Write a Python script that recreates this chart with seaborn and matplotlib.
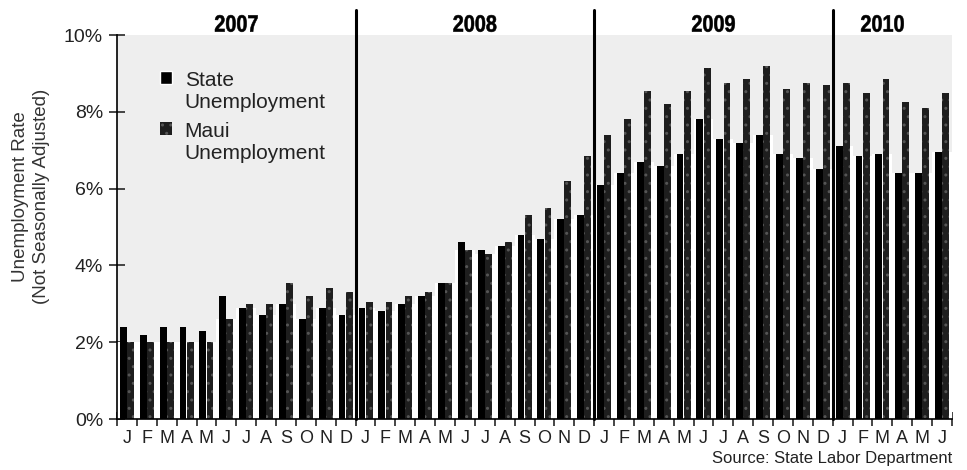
import pandas as pd
import numpy as np

import matplotlib.pyplot as plt
from matplotlib.patches import Rectangle, PathPatch
from matplotlib.textpath import TextPath
from matplotlib.font_manager import FontProperties
from matplotlib.transforms import Affine2D, ScaledTranslation
import seaborn as sns

# DATA (% unemployment, Jan 2007 - Jun 2010)
months = list("JFMAMJJASOND") * 3 + list("JFMAMJ")
years = ["2007", "2008", "2009", "2010"]
year_centers = [5.5, 17.5, 29.5, 38.0]
year_breaks = [11.5, 23.5, 35.5]

state = [2.4, 2.2, 2.4, 2.4, 2.3, 3.2, 2.9, 2.7, 3.0, 2.6, 2.9, 2.7,
         2.9, 2.8, 3.0, 3.2, 3.55, 4.6, 4.4, 4.5, 4.8, 4.7, 5.2, 5.3,
         6.1, 6.4, 6.7, 6.6, 6.9, 7.8, 7.3, 7.2, 7.4, 6.9, 6.8, 6.5,
         7.1, 6.85, 6.9, 6.4, 6.4, 6.95]
maui = [2.0, 2.0, 2.0, 2.0, 2.0, 2.6, 3.0, 3.0, 3.55, 3.2, 3.4, 3.3,
        3.05, 3.05, 3.2, 3.3, 3.55, 4.4, 4.3, 4.6, 5.3, 5.5, 6.2, 6.85,
        7.4, 7.8, 8.55, 8.2, 8.55, 9.15, 8.75, 8.85, 9.2, 8.6, 8.75, 8.7,
        8.75, 8.5, 8.85, 8.25, 8.1, 8.5]

# CONFIG
sns.set_theme(style="white")
plt.rcParams["font.family"] = ["Liberation Sans", "DejaVu Sans"]
text_col = "#222222"

n = len(months)
df = pd.DataFrame({
    "idx": list(range(n)) * 2,
    "rate": state + maui,
    "series": ["State"] * n + ["Maui"] * n,
})
# white gaps between bars (stipple only shows above them)
low_df = pd.DataFrame({"idx": range(n), "rate": np.minimum(state, maui)})

fig = plt.figure(figsize=(9.67, 4.7), dpi=100)
ax = fig.add_axes([0.121, 0.1085, 0.8635, 0.817])
ax.set_facecolor("#eeeeee")

sns.barplot(data=low_df, x="idx", y="rate", color="white", width=1.0,
            linewidth=0, saturation=1, ax=ax)

sns.barplot(data=df, x="idx", y="rate", hue="series", hue_order=["State", "Maui"],
            palette={"State": "#000000", "Maui": "#1e1e1e"},
            width=0.72, gap=0.04, linewidth=0, saturation=1, ax=ax, legend=False)

# dotted texture on Maui bars
for p in ax.containers[2]:
    p.set_hatch("..")
    p.set_edgecolor("#555555")
    p.set_linewidth(0)

ax.set_xlim(-0.5, n - 0.5)
ax.set_ylim(0, 10)

# y axis
ax.set_yticks([0, 2, 4, 6, 8, 10])
ax.set_yticklabels([f"{v}%" for v in [0, 2, 4, 6, 8, 10]], fontsize=14, color=text_col)
ax.tick_params(axis="y", direction="inout", length=12, width=1.2, pad=4, left=True)
ax.set_ylabel("Unemployment Rate\n(Not Seasonally Adjusted)", fontsize=13.5, color="#333333",
              linespacing=1.3)
ax.yaxis.set_label_coords(-0.08, 0.58)

# x axis: month letters centred, ticks at month boundaries
ax.set_xticks(range(n))
ax.set_xticklabels(months, fontsize=13, color=text_col)
ax.set_xticks(np.arange(-0.5, n, 1.0), minor=True)
ax.tick_params(axis="x", which="major", length=0, pad=8)
ax.tick_params(axis="x", which="minor", direction="inout", length=10, width=1.2, bottom=True)
ax.set_xlabel("")

for side in ["top", "right"]:
    ax.spines[side].set_visible(False)
for side in ["left", "bottom"]:
    ax.spines[side].set_color("black")
    ax.spines[side].set_linewidth(1.2)

# year dividers
for xb in year_breaks:
    ax.axvline(xb, ymin=0, ymax=1.065, color="black", lw=2.2, clip_on=False, zorder=5)

# year labels: bold, horizontally condensed
fp = FontProperties(family="Liberation Sans", weight="bold")
for xc, yr in zip(year_centers, years):
    tp = TextPath((0, 0), yr, size=17, prop=fp)
    ext = tp.get_extents()
    cx, cy = (ext.x0 + ext.x1) / 2, (ext.y0 + ext.y1) / 2
    tr = (Affine2D().translate(-cx, -cy).scale(0.84 / 72, 1 / 72)
          + fig.dpi_scale_trans
          + ScaledTranslation(xc, 1.030, ax.get_xaxis_transform()))
    fig.add_artist(PathPatch(tp, transform=tr, facecolor="black", edgecolor="black", lw=0.4))

# legend: square next to first line of each two-line label
handles = [Rectangle((0, 0), 1, 1, facecolor="#000000"),
           Rectangle((0, 0), 1, 1, facecolor="#1e1e1e", hatch="..", edgecolor="#555555", lw=0)]
labels = ["State\nUnemployment", "Maui\nUnemployment"]
leg = ax.legend(handles, labels, loc="upper left", bbox_to_anchor=(0.052, 0.905), frameon=False,
                fontsize=15, handlelength=0.56, handleheight=0.56, handletextpad=0.6,
                labelspacing=0.45, borderaxespad=0, borderpad=0, labelcolor=text_col)
for t in leg.get_texts():
    t.set_linespacing(1.2)
for col in leg._legend_handle_box.get_children():
    for row in col.get_children():
        row.align = "top"

fig.text(0.9845, 0.0255, "Source: State Labor Department", ha="right", va="center",
         fontsize=12, color=text_col)

fig.savefig("out.png", dpi=100)
